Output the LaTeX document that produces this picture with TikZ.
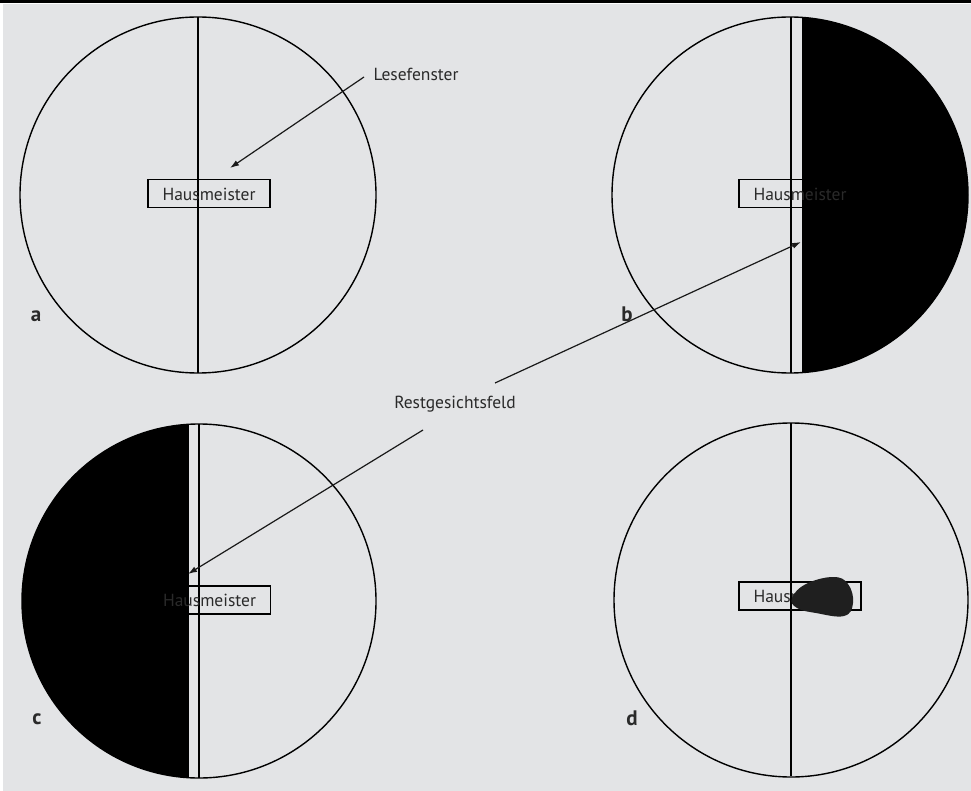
\documentclass[tikz,border=0pt]{standalone}
\usepackage{fontspec}
\setmainfont{PT Sans}
\usetikzlibrary{arrows.meta}
\definecolor{bg}{HTML}{E3E4E6}
\definecolor{txt}{HTML}{2A2A2A}
\begin{document}
\begin{tikzpicture}[x=1pt,y=-1pt,
  ring/.style={draw=black,line width=1.4pt},
  midline/.style={draw=black,line width=1.2pt},
  wordbox/.style={draw=black,line width=1.3pt,minimum width=122pt,minimum height=28pt,inner sep=0pt},
  word/.style={text=txt,font=\fontsize{17.5}{20}\selectfont,inner sep=0pt},
  letter/.style={text=txt,font=\bfseries\fontsize{21}{24}\selectfont,inner sep=0pt},
  pointer/.style={draw=black!90,line width=1.2pt,-{Latex[length=9pt,width=6pt]}}]
\useasboundingbox (0,0) rectangle (971,791);
\fill[white] (0,0) rectangle (971,791);
\fill[bg] (3,4) rectangle (971,791);
\draw[line width=2.2pt] (0,1.5) -- (971,1.5);

% ---------- a ----------
\node[wordbox] (boxa) at (209,193.5) {};
\draw[midline] (198,17) -- (198,373);
\node[word] (ta) at (209,194) {Hausmeister};
\draw[ring] (198,195) circle (178);
\node[letter] (la) at (36,316) {a};

% ---------- b ----------
\node[wordbox] (boxb) at (800,193.5) {};
\begin{scope}
  \clip (790,195) circle (178);
  \fill[black] (802,0) rectangle (971,380);
\end{scope}
\draw[midline] (791,17) -- (791,373);
\node[word] (tb) at (800,194) {Hausmeister};
\draw[ring] (790,195) circle (178);
\node[letter] (lb) at (627,314) {b};

% ---------- c ----------
\node[wordbox] (boxc) at (209.5,600) {};
\begin{scope}
  \clip (199,601) circle (177);
  \fill[black] (0,400) rectangle (189,791);
\end{scope}
\draw[midline] (199,424) -- (199,778);
\node[word] (tc) at (209.5,600.5) {Hausmeister};
\draw[ring] (199,601) circle (177);
\node[letter] (lc) at (37,719) {c};

% ---------- d ----------
\node[wordbox] (boxd) at (800,596) {};
\draw[midline] (791,423) -- (791,776);
\node[word] (td) at (800,596.5) {Hausmeister};
\fill[black!88] plot[smooth cycle,tension=0.7] coordinates
  {(792,598) (806,584) (833,577) (848,584) (853,603) (844,616) (816,613) (797,608)};
\draw[ring] (791,600) circle (177);
\node[letter] (ld) at (632,718) {d};

% ---------- labels and pointers ----------
\node[word] (lese) at (416,74) {Lesefenster};
\node[word] (rest) at (455,404) {Restgesichtsfeld};
\coordinate (lesetip) at (230,168);
\coordinate (btip) at (801,242);
\coordinate (ctip) at (188,574);
\draw[pointer] (364,77) -- (lesetip);
\draw[pointer] (495,383) -- (btip);
\draw[pointer] (423,430) -- (ctip);
\end{tikzpicture}
\end{document}
